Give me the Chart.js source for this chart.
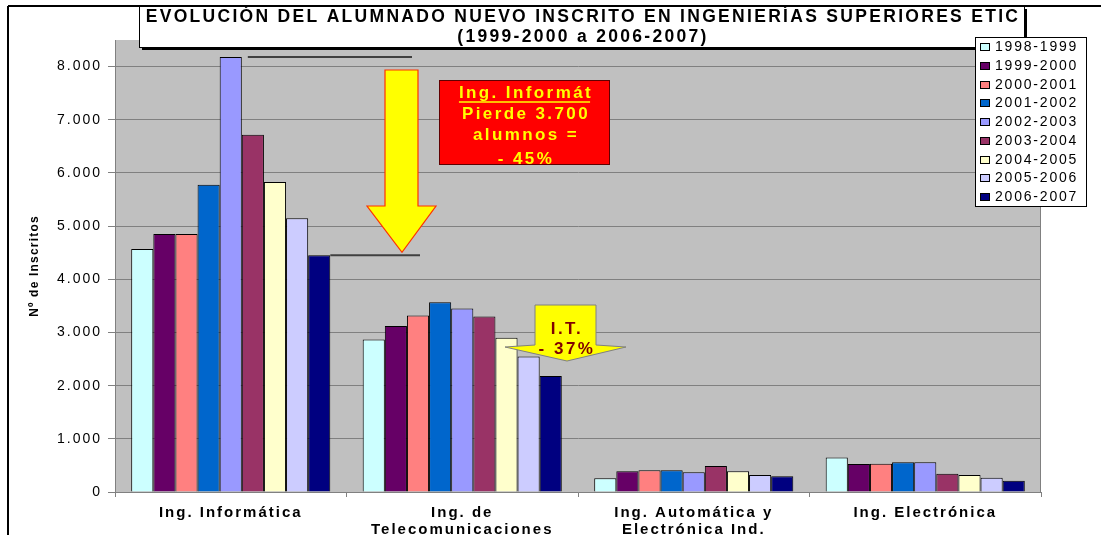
<!DOCTYPE html>
<html>
<head>
<meta charset="utf-8">
<script src="https://cdn.jsdelivr.net/npm/chart.js@4.4.1/dist/chart.umd.min.js"></script>
<style>
  html, body { margin: 0; padding: 0; background: #fff; overflow: hidden; }
  #marco { width: 1101px; height: 535px; overflow: hidden; }
</style>
</head>
<body>
<div id="marco"><canvas id="grafico" width="1101" height="552"></canvas></div>
<script>
// Datos
const categorias = [
    "Ing. Informática",
    ["Ing. de", "Telecomunicaciones"],
    ["Ing. Automática y", "Electrónica Ind."],
    "Ing. Electrónica"
];
const cursos = ["1998-1999", "1999-2000", "2000-2001", "2001-2002", "2002-2003",
                "2003-2004", "2004-2005", "2005-2006", "2006-2007"];

const c1998 = [4570, 2870, 260, 650];
const c1999 = [4850, 3120, 390, 525];
const c2000 = [4850, 3320, 410, 530];
const c2001 = [5780, 3570, 410, 560];
const c2002 = [8180, 3450, 370, 560];
const c2003 = [6720, 3300, 490, 345];
const c2004 = [5830, 2900, 390, 320];
const c2005 = [5150, 2550, 320, 270];
const c2006 = [4450, 2180, 295, 210];
const series = [c1998, c1999, c2000, c2001, c2002, c2003, c2004, c2005, c2006];

const ticksY = [0, 1000, 2000, 3000, 4000, 5000, 6000, 7000, 8000];

const titulo = ["EVOLUCIÓN DEL ALUMNADO NUEVO INSCRITO EN INGENIERÍAS SUPERIORES ETIC",
                "(1999-2000 a 2006-2007)"];
const tituloY = "Nº de Inscritos";
const notaInformatica = ["Ing. Informát", "Pierde 3.700", "alumnos =", "- 45%"];
const notaTeleco = ["I.T.", "- 37%"];

const colores = ["#ccffff", "#660066", "#ff8080", "#0066cc", "#9999ff",
                 "#993366", "#ffffcc", "#ccccff", "#000080"];

const FUENTE = "'Liberation Sans', Arial, sans-serif";
const ESPACIADO = "2px";
const miles = v => String(v).replace(/\B(?=(\d{3})+(?!\d))/g, ".");

function linea(ctx, x1, y1, x2, y2) {
    ctx.beginPath();
    ctx.moveTo(x1, y1);
    ctx.lineTo(x2, y2);
    ctx.stroke();
}

const decorado = {
    id: "decorado",
    beforeUpdate(chart) {
        chart.ctx.letterSpacing = ESPACIADO;
    },
    beforeDraw(chart) {
        const { ctx, chartArea: a } = chart;
        ctx.save();
        ctx.fillStyle = "#fff";
        ctx.fillRect(0, 0, chart.width, chart.height);
        ctx.fillStyle = "#c0c0c0";
        ctx.fillRect(a.left, a.top, a.right - a.left, a.bottom - a.top);
        ctx.restore();
        ctx.letterSpacing = ESPACIADO;
    },
    afterDatasetsDraw(chart) {
        const { ctx, chartArea: a } = chart;
        ctx.save();
        // borde derecho del área de trazado
        ctx.strokeStyle = "#808080";
        ctx.lineWidth = 1;
        linea(ctx, a.right - 0.5, a.top, a.right - 0.5, a.bottom);

        // líneas de referencia máximo / último curso
        const b2002 = chart.getDatasetMeta(4).data[0];
        const b2006 = chart.getDatasetMeta(8).data[0];
        ctx.strokeStyle = "#404040";
        ctx.lineWidth = 2;
        linea(ctx, b2002.x + b2002.width / 2 + 6, b2002.y, 412, b2002.y);
        linea(ctx, b2006.x + b2006.width / 2, b2006.y, 420, b2006.y);

        // flecha amarilla
        ctx.beginPath();
        ctx.moveTo(385, 70);
        ctx.lineTo(418, 70);
        ctx.lineTo(418, 206);
        ctx.lineTo(436, 206);
        ctx.lineTo(402, b2006.y - 3);
        ctx.lineTo(367, 206);
        ctx.lineTo(385, 206);
        ctx.closePath();
        ctx.fillStyle = "#ffff00";
        ctx.fill();
        ctx.strokeStyle = "#ff3300";
        ctx.lineWidth = 1.2;
        ctx.stroke();

        // caja roja
        ctx.fillStyle = "#ff0000";
        ctx.fillRect(439, 80, 170, 84);
        ctx.strokeStyle = "#600000";
        ctx.lineWidth = 1;
        ctx.strokeRect(439.5, 80.5, 170, 84);
        ctx.save();
        ctx.beginPath();
        ctx.rect(440, 81, 169, 83);
        ctx.clip();
        ctx.fillStyle = "#ffff00";
        ctx.font = "bold 17px " + FUENTE;
        ctx.letterSpacing = "2.4px";
        ctx.textAlign = "center";
        ctx.textBaseline = "middle";
        const ys = [93, 114, 135, 159];
        notaInformatica.forEach((t, i) => ctx.fillText(t, 526, ys[i]));
        const w0 = ctx.measureText(notaInformatica[0]).width;
        ctx.strokeStyle = "#ffff00";
        ctx.lineWidth = 1.5;
        linea(ctx, 526 - w0 / 2, 102, 526 + w0 / 2 - 3, 102);
        ctx.restore();

        // llamada I.T.
        ctx.beginPath();
        ctx.moveTo(535, 305);
        ctx.lineTo(596, 305);
        ctx.lineTo(596, 345);
        ctx.lineTo(626, 347);
        ctx.lineTo(567, 361);
        ctx.lineTo(505, 347);
        ctx.lineTo(535, 345);
        ctx.closePath();
        ctx.fillStyle = "#ffff00";
        ctx.fill();
        ctx.strokeStyle = "#808080";
        ctx.lineWidth = 1;
        ctx.stroke();
        ctx.fillStyle = "#800000";
        ctx.font = "bold 17px " + FUENTE;
        ctx.letterSpacing = "2.5px";
        ctx.textAlign = "center";
        ctx.textBaseline = "middle";
        ctx.fillText(notaTeleco[0], 567, 329);
        ctx.fillText(notaTeleco[1], 567, 349);
        ctx.restore();
        ctx.letterSpacing = ESPACIADO;
    },
    afterDraw(chart) {
        const { ctx, chartArea: a } = chart;
        ctx.save();
        // marco exterior
        ctx.strokeStyle = "#000";
        ctx.lineWidth = 2;
        linea(ctx, 8, 6, 8, chart.height);
        linea(ctx, 8, 6, chart.width, 6);

        // caja del título con sombra
        ctx.fillStyle = "#000";
        ctx.fillRect(142, 47, 885, 3);
        ctx.fillRect(1024, 9, 3, 41);
        ctx.fillStyle = "#fff";
        ctx.fillRect(139, 6, 885, 41);
        ctx.lineWidth = 1;
        ctx.strokeRect(139.5, 6.5, 885, 41);
        ctx.fillStyle = "#000";
        ctx.font = "bold 17.5px " + FUENTE;
        ctx.letterSpacing = "2.3px";
        ctx.textAlign = "center";
        ctx.textBaseline = "alphabetic";
        ctx.fillText(titulo[0], 583, 22);
        ctx.fillText(titulo[1], 583, 42);

        // leyenda
        ctx.fillStyle = "#fff";
        ctx.fillRect(975, 37, 111, 169);
        ctx.strokeStyle = "#000";
        ctx.strokeRect(975.5, 37.5, 111, 169);
        ctx.font = "14px " + FUENTE;
        ctx.letterSpacing = "1.8px";
        ctx.textAlign = "left";
        ctx.textBaseline = "middle";
        chart.data.datasets.forEach((ds, i) => {
            const yy = Math.round(47 + i * 18.75);
            ctx.fillStyle = ds.backgroundColor;
            ctx.fillRect(980, yy - 4, 10, 8);
            ctx.strokeRect(980.5, yy - 3.5, 9, 7);
            ctx.fillStyle = "#000";
            ctx.fillText(ds.label, 995, yy + 0.5);
        });

        // título eje Y
        ctx.translate(35, (a.top + a.bottom) / 2);
        ctx.rotate(-Math.PI / 2);
        ctx.font = "bold 12px " + FUENTE;
        ctx.letterSpacing = "1.2px";
        ctx.textAlign = "center";
        ctx.fillText(tituloY, 0, 0);
        ctx.restore();
        ctx.letterSpacing = ESPACIADO;
    }
};

new Chart(document.getElementById("grafico"), {
    type: "bar",
    data: {
        labels: categorias,
        datasets: series.map((s, i) => ({
            label: cursos[i],
            data: s,
            backgroundColor: colores[i],
            borderColor: "#000",
            borderWidth: 1,
            categoryPercentage: 0.86,
            barPercentage: 1
        }))
    },
    options: {
        responsive: false,
        animation: false,
        layout: { padding: { top: 40, right: 60, left: 0, bottom: 0 } },
        plugins: {
            legend: { display: false },
            tooltip: { enabled: false }
        },
        scales: {
            x: {
                grid: {
                    offset: true,
                    drawOnChartArea: false,
                    drawTicks: true,
                    tickLength: 5,
                    color: "#808080"
                },
                border: { color: "#808080" },
                ticks: {
                    color: "#000",
                    font: { family: FUENTE, size: 15, weight: "bold", lineHeight: 1.1 },
                    padding: 8,
                    maxRotation: 0,
                    autoSkip: false
                },
                afterFit: s => { s.height = 60; }
            },
            y: {
                min: 0,
                max: 8500,
                afterBuildTicks: s => { s.ticks = ticksY.map(v => ({ value: v })); },
                grid: {
                    color: "#808080",
                    tickLength: 7
                },
                border: { color: "#808080" },
                ticks: {
                    color: "#000",
                    font: { family: FUENTE, size: 14 },
                    padding: 6,
                    callback: v => miles(v)
                },
                afterFit: s => { s.width = 115; }
            }
        }
    },
    plugins: [decorado]
});
</script>
</body>
</html>
